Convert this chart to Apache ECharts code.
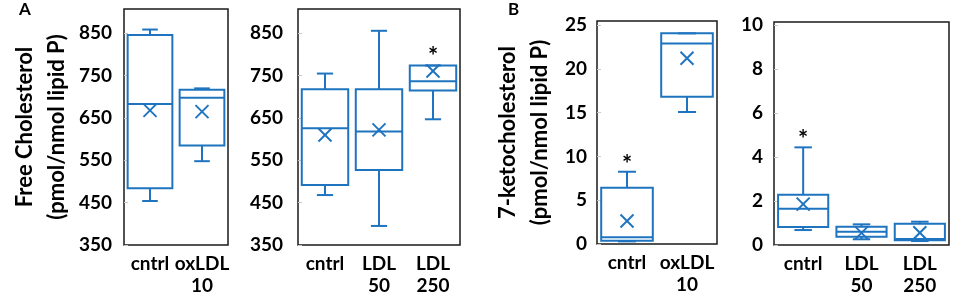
<!DOCTYPE html>
<html>
<head>
<meta charset="utf-8">
<script src="https://cdn.jsdelivr.net/npm/echarts@6/dist/echarts.min.js"></script>
<style>
  html, body { margin: 0; padding: 0; background: #fff; }
  #main { width: 957px; height: 300px; }
</style>
</head>
<body>
<div id="main"></div>
<script>
// box data: [min, q1, median, q3, max]
var catsA1 = ['cntrl', 'oxLDL\n10'];
var freeChol1 = [
  [454, 484, 683, 846, 859],
  [548, 585, 698, 717, 720]
];
var freeCholMean1 = [668, 665];
var freeCholStar1 = [null, null];

var catsA2 = ['cntrl', 'LDL\n50', 'LDL\n250'];
var freeChol2 = [
  [468, 492, 626, 718, 755],
  [395, 527, 618, 718, 856],
  [647, 715, 737, 774, 774]
];
var freeCholMean2 = [610, 622, 761];
var freeCholStar2 = [null, null, 807];

var catsB1 = ['cntrl', 'oxLDL\n10'];
var keto1 = [
  [0.3, 0.38, 0.76, 6.43, 8.25],
  [15.07, 16.8, 22.9, 24.05, 24.05]
];
var ketoMean1 = [2.63, 21.2];
var ketoStar1 = [9.67, null];

var catsB2 = ['cntrl', 'LDL\n50', 'LDL\n250'];
var keto2 = [
  [0.68, 0.82, 1.65, 2.29, 4.44],
  [0.26, 0.38, 0.6, 0.83, 0.94],
  [0.18, 0.22, 0.27, 0.97, 1.06]
];
var ketoMean2 = [1.86, 0.55, 0.56];
var ketoStar2 = [5.03, null, null];

var BLUE = '#1f74c0';
var FONT = 'Lato';

function buildData(boxes, means, stars) {
  return boxes.map(function (b, i) {
    return [i, b[0], b[1], b[2], b[3], b[4], means[i], stars[i] == null ? NaN : stars[i]];
  });
}

function renderBox(params, api) {
  var i = api.value(0);
  var lo = api.coord([i, api.value(1)]);
  var q1 = api.coord([i, api.value(2)]);
  var med = api.coord([i, api.value(3)]);
  var q3 = api.coord([i, api.value(4)]);
  var hi = api.coord([i, api.value(5)]);
  var mean = api.coord([i, api.value(6)]);
  var band = api.size([1, 0])[0];
  var cx = lo[0];
  var hw = band * 0.43;
  var cw = band * 0.15;
  var m = 6.5;
  var st = { stroke: BLUE, lineWidth: 2, fill: null };
  var kids = [
    { type: 'rect', shape: { x: cx - hw, y: q3[1], width: hw * 2, height: q1[1] - q3[1] }, style: { stroke: BLUE, lineWidth: 2, fill: 'none' } },
    { type: 'line', shape: { x1: cx - hw, y1: med[1], x2: cx + hw, y2: med[1] }, style: st },
    { type: 'line', shape: { x1: cx, y1: q3[1], x2: cx, y2: hi[1] }, style: st },
    { type: 'line', shape: { x1: cx, y1: q1[1], x2: cx, y2: lo[1] }, style: st },
    { type: 'line', shape: { x1: cx - cw, y1: hi[1], x2: cx + cw, y2: hi[1] }, style: st },
    { type: 'line', shape: { x1: cx - cw, y1: lo[1], x2: cx + cw, y2: lo[1] }, style: st },
    { type: 'line', shape: { x1: cx - m, y1: mean[1] - m, x2: cx + m, y2: mean[1] + m }, style: st },
    { type: 'line', shape: { x1: cx - m, y1: mean[1] + m, x2: cx + m, y2: mean[1] - m }, style: st }
  ];
  var s = api.value(7);
  if (!isNaN(s)) {
    var sp = api.coord([i, s]);
    kids.push({ type: 'text', x: cx, y: sp[1] + 6, style: { text: '*', font: 'bold 24px ' + FONT, fill: '#000', align: 'center', verticalAlign: 'middle' } });
  }
  return { type: 'group', children: kids };
}

var myChart = echarts.init(document.getElementById('main'), null, { renderer: 'canvas' });

var grids = [
  { left: 124, top: 9, width: 104, height: 236 },
  { left: 298, top: 9, width: 162, height: 236 },
  { left: 597, top: 21, width: 120, height: 223 },
  { left: 774, top: 22, width: 175, height: 223 }
];

var labelStyle = { color: '#000', fontFamily: FONT, fontWeight: 'bold', fontSize: 19 };

function xAx(idx, cats) {
  return {
    type: 'category', gridIndex: idx, data: cats,
    axisTick: { show: false }, axisLine: { show: false },
    axisLabel: Object.assign({ margin: 8, lineHeight: 22, interval: 0 }, labelStyle)
  };
}

function yAx(idx, min, max, step, margin, name, gap) {
  return {
    type: 'value', gridIndex: idx, min: min, max: max, interval: step,
    splitLine: { show: false },
    axisLine: { show: false },
    axisTick: { show: true, inside: true, length: 4, lineStyle: { color: '#c8c8c8' } },
    axisLabel: Object.assign({ margin: margin, showMaxLabel: false }, labelStyle),
    name: name, nameLocation: 'middle', nameRotate: 90, nameGap: gap,
    nameTextStyle: { color: '#000', fontFamily: FONT, fontWeight: 'bold', fontSize: 22, lineHeight: 32 }
  };
}

var option = {
  animation: false,
  grid: grids.map(function (g) {
    return Object.assign({ show: true, borderColor: '#1a1a1a', borderWidth: 1.5, backgroundColor: 'transparent' }, g);
  }),
  title: [
    { text: 'A', left: 14, top: -4, textStyle: { fontSize: 17, fontWeight: 'bold', fontFamily: FONT, color: '#000' } },
    { text: 'B', left: 503, top: -4, textStyle: { fontSize: 17, fontWeight: 'bold', fontFamily: FONT, color: '#000' } }
  ],
  xAxis: [xAx(0, catsA1), xAx(1, catsA2), xAx(2, catsB1), xAx(3, catsB2)],
  yAxis: [
    yAx(0, 350, 907.5, 100, 12, 'Free Cholesterol\n(pmol/nmol lipid P)', 51),
    yAx(1, 350, 907.5, 100, 15, '', 0),
    yAx(2, 0, 25.46, 5, 10, '7-ketocholesterol\n(pmol/nmol lipid P)', 41),
    yAx(3, 0, 10.14, 2, 11, '', 0)
  ],
  series: [
    { type: 'custom', xAxisIndex: 0, yAxisIndex: 0, renderItem: renderBox, data: buildData(freeChol1, freeCholMean1, freeCholStar1) },
    { type: 'custom', xAxisIndex: 1, yAxisIndex: 1, renderItem: renderBox, data: buildData(freeChol2, freeCholMean2, freeCholStar2) },
    { type: 'custom', xAxisIndex: 2, yAxisIndex: 2, renderItem: renderBox, data: buildData(keto1, ketoMean1, ketoStar1) },
    { type: 'custom', xAxisIndex: 3, yAxisIndex: 3, renderItem: renderBox, data: buildData(keto2, ketoMean2, ketoStar2) }
  ]
};

myChart.setOption(option);
</script>
</body>
</html>
